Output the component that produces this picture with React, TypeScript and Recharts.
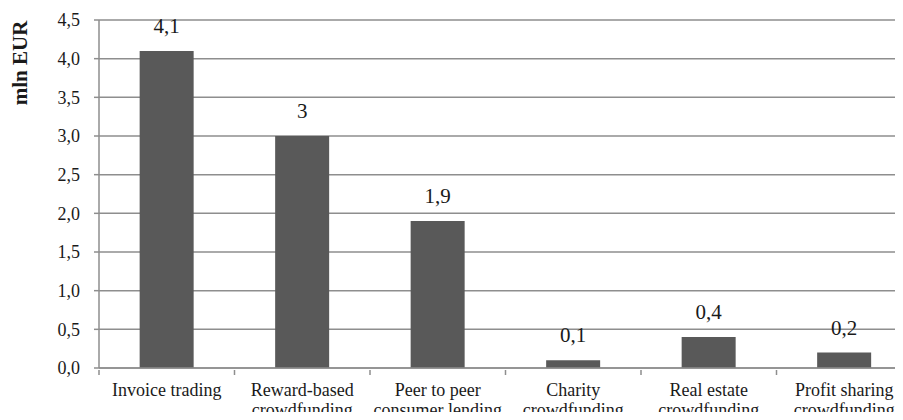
import { BarChart, Bar, XAxis, YAxis, CartesianGrid, LabelList } from "recharts";

const categories = [
  ["Invoice trading"],
  ["Reward-based", "crowdfunding"],
  ["Peer to peer", "consumer lending"],
  ["Charity", "crowdfunding"],
  ["Real estate", "crowdfunding"],
  ["Profit sharing", "crowdfunding"],
];
const values = [4.1, 3, 1.9, 0.1, 0.4, 0.2];
const yTicks = [0, 0.5, 1, 1.5, 2, 2.5, 3, 3.5, 4, 4.5];

const data = categories.map((lines, i) => ({ name: lines.join(" "), lines, value: values[i] }));

const FONT = "Liberation Serif, DejaVu Serif, serif";
const GRID = "#8e8e8e";
const TEXT = "#1a1a1a";

const comma = (v: number) => String(v).replace(".", ",");

function CategoryTick(props: any) {
  const { x, y, payload, index } = props;
  const half = payload?.offset || 67.75;
  const lines = data[index]?.lines ?? [payload.value];
  return (
    <g>
      <line x1={x - half} x2={x - half} y1={y} y2={y + 5} stroke={GRID} strokeWidth={1.5} />
      {lines.map((l: string, i: number) => (
        <text
          key={i}
          x={x}
          y={y + 26 + i * 20}
          textAnchor="middle"
          style={{ fontFamily: FONT, fontSize: 18, fill: TEXT }}
        >
          {l}
        </text>
      ))}
    </g>
  );
}

function ValueLabel(props: any) {
  const { x, y, width, value } = props;
  return (
    <text x={x + width / 2} y={y - 18} textAnchor="middle" style={{ fontFamily: FONT, fontSize: 21, fill: TEXT }}>
      {comma(value)}
    </text>
  );
}

function AxisTitle() {
  return (
    <text
      x={27}
      y={63}
      transform="rotate(-90 27 63)"
      textAnchor="middle"
      style={{ fontFamily: FONT, fontSize: 21, fontWeight: "bold", fill: TEXT }}
    >
      mln EUR
    </text>
  );
}

export default function App() {
  return (
    <div style={{ margin: -8, width: 903, height: 420, overflow: "hidden", background: "#fff" }}>
      <BarChart
        width={920}
        height={420}
        data={data}
        margin={{ top: 20, right: 8, bottom: 0, left: 0 }}
        barCategoryGap="30%"
        style={{ fontFamily: FONT }}
      >
        <CartesianGrid vertical={false} stroke={GRID} strokeWidth={1.5} />
        <XAxis
          dataKey="name"
          height={52}
          interval={0}
          tickSize={0}
          tickLine={false}
          axisLine={{ stroke: GRID, strokeWidth: 1.5 }}
          tick={<CategoryTick />}
        />
        <YAxis
          width={99}
          domain={[0, 4.5]}
          ticks={yTicks}
          tickFormatter={(v: number) => v.toFixed(1).replace(".", ",")}
          tickSize={5}
          tickMargin={14}
          axisLine={{ stroke: GRID, strokeWidth: 1.5 }}
          tickLine={{ stroke: GRID, strokeWidth: 1.5 }}
          tick={{ fontFamily: FONT, fontSize: 18, fill: TEXT }}
          label={<AxisTitle />}
        />
        <Bar dataKey="value" fill="#595959" isAnimationActive={false}>
          <LabelList dataKey="value" content={<ValueLabel />} />
        </Bar>
      </BarChart>
    </div>
  );
}
